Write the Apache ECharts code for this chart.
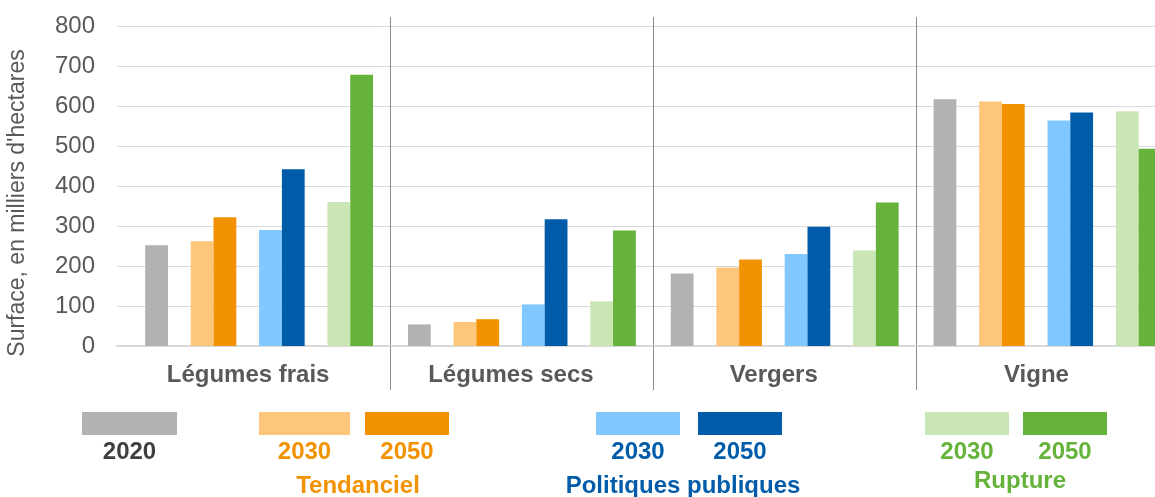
<!DOCTYPE html>
<html>
<head>
<meta charset="utf-8">
<script src="https://cdn.jsdelivr.net/npm/echarts@6/dist/echarts.min.js"></script>
<style>
  html, body { margin: 0; padding: 0; overflow: hidden; background: #fff; }
  #main { width: 1180px; height: 497px; }
</style>
</head>
<body>
<div id="main"></div>
<script>
  // données (milliers d'hectares)
  var categories = ['Légumes frais', 'Légumes secs', 'Vergers', 'Vigne'];
  var v2020 = [252, 54, 181, 617];
  var tend2030 = [262, 60, 196, 611];
  var tend2050 = [322, 67, 216, 605];
  var pp2030 = [290, 104, 230, 564];
  var pp2050 = [442, 317, 298, 584];
  var rup2030 = [360, 112, 239, 587];
  var rup2050 = [678, 289, 359, 493];
  var yMin = 0, yMax = 800, yStep = 100;

  var font = '"Liberation Sans", Arial, sans-serif';
  var grey = '#595959';

  // null = emplacement vide entre les groupes
  var slots = [
    { name: '2020', data: v2020, color: '#b2b2b2' },
    null,
    { name: 'Tendanciel 2030', data: tend2030, color: '#fec67a' },
    { name: 'Tendanciel 2050', data: tend2050, color: '#f39200' },
    null,
    { name: 'Politiques publiques 2030', data: pp2030, color: '#80c8ff' },
    { name: 'Politiques publiques 2050', data: pp2050, color: '#005ca8' },
    null,
    { name: 'Rupture 2030', data: rup2030, color: '#cae6b4' },
    { name: 'Rupture 2050', data: rup2050, color: '#65b33a' }
  ];

  var series = slots.map(function (s, i) {
    return {
      type: 'bar',
      name: s ? s.name : 'vide' + i,
      xAxisIndex: 0,
      yAxisIndex: 0,
      barGap: '0%',
      barCategoryGap: '13.3%',
      itemStyle: { color: s ? s.color : 'transparent' },
      data: s ? s.data : categories.map(function () { return '-'; })
    };
  });

  // légende dessinée à la main
  var legendRects = [
    { x: 82, w: 95, year: '2020', color: '#b2b2b2', text: '#3f3f3f' },
    { x: 259, w: 91, year: '2030', color: '#fec67a', text: '#f39200' },
    { x: 365, w: 84, year: '2050', color: '#f39200', text: '#f39200' },
    { x: 596, w: 84, year: '2030', color: '#80c8ff', text: '#005ca8' },
    { x: 698, w: 84, year: '2050', color: '#005ca8', text: '#005ca8' },
    { x: 925, w: 84, year: '2030', color: '#cae6b4', text: '#65b33a' },
    { x: 1023, w: 84, year: '2050', color: '#65b33a', text: '#65b33a' }
  ];
  var groupLabels = [
    { text: 'Tendanciel', x: 358, y: 486, color: '#f39200' },
    { text: 'Politiques publiques', x: 683, y: 486, color: '#005ca8' },
    { text: 'Rupture', x: 1020, y: 481, color: '#65b33a' }
  ];

  var graphic = [];
  legendRects.forEach(function (r) {
    graphic.push({
      type: 'rect',
      shape: { x: r.x, y: 412, width: r.w, height: 23 },
      style: { fill: r.color }
    });
    graphic.push({
      type: 'text',
      x: r.x + r.w / 2,
      y: 452,
      style: {
        text: r.year, fill: r.text, font: 'bold 24px ' + font,
        textAlign: 'center', textVerticalAlign: 'middle'
      }
    });
  });
  groupLabels.forEach(function (g) {
    graphic.push({
      type: 'text',
      x: g.x,
      y: g.y,
      style: {
        text: g.text, fill: g.color, font: 'bold 24px ' + font,
        textAlign: 'center', textVerticalAlign: 'middle'
      }
    });
  });
  graphic.push({
    type: 'text',
    x: 18,
    y: 203,
    rotation: Math.PI / 2,
    style: {
      text: "Surface, en milliers d'hectares", fill: grey, font: '23px ' + font,
      textAlign: 'center', textVerticalAlign: 'middle'
    }
  });

  var notFirst = function (index) { return index > 0; };

  var chart = echarts.init(document.getElementById('main'));
  chart.setOption({
    animation: false,
    grid: [
      { left: 127.7, right: 1.1, top: 17, bottom: 151 },
      { left: 117, right: 1.1, top: 26, bottom: 151 }
    ],
    xAxis: [
      {
        gridIndex: 0,
        type: 'category',
        data: categories,
        axisLine: { show: false },
        axisTick: { show: true, length: 44, interval: notFirst, lineStyle: { color: '#8c8c8c' } },
        splitLine: { show: true, interval: notFirst, lineStyle: { color: '#8c8c8c' } },
        axisLabel: {
          margin: 17, fontSize: 24, fontWeight: 'bold', color: grey, fontFamily: font,
          padding: [0, 22, 0, 0]
        }
      },
      {
        gridIndex: 1,
        type: 'category',
        data: categories,
        axisLine: { lineStyle: { color: '#d9d9d9', width: 2 } },
        axisTick: { show: false },
        axisLabel: { show: false }
      }
    ],
    yAxis: [
      { gridIndex: 0, type: 'value', min: yMin, max: (346 - 17) / 0.4, show: false },
      {
        gridIndex: 1,
        type: 'value',
        min: yMin,
        max: yMax,
        interval: yStep,
        axisLine: { show: false },
        axisTick: { show: false },
        splitLine: { lineStyle: { color: '#d9d9d9', width: 1 } },
        axisLabel: { margin: 22, fontSize: 24, color: grey, fontFamily: font }
      }
    ],
    graphic: graphic,
    series: series
  });
</script>
</body>
</html>
